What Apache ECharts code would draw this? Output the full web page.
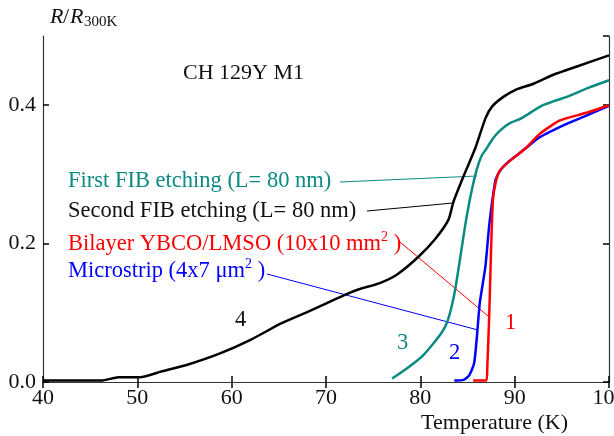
<!DOCTYPE html>
<html lang="en">
<head>
    <meta charset="utf-8">
    <title>R/R300K vs Temperature</title>
    <script src="https://cdn.jsdelivr.net/npm/echarts@6.0.0/dist/echarts.min.js"></script>
    <style>
        html, body {margin: 0; padding: 0; background: #fff;}
    </style>
</head>
<body>
<div id="main" style="width: 614px;height:436px;"></div>
<script type="application/javascript">
    // curve 1 - bilayer YBCO/LMSO
    var t1 = [85.6, 87.0, 87.1, 87.3, 87.5, 87.7, 88.0, 88.4, 89.7, 91.1, 92.7, 94.8, 97.6, 100];
    var r1 = [0.002, 0.002, 0.022, 0.095, 0.192, 0.264, 0.289, 0.305, 0.322, 0.337, 0.359, 0.378, 0.389, 0.400];
    // curve 2 - microstrip
    var t2 = [83.6, 84.6, 85.2, 85.7, 86.0, 86.3, 86.9, 87.3, 87.7, 88.0, 88.6, 89.5, 91.1, 92.7, 95.5, 97.6, 100];
    var r2 = [0.002, 0.003, 0.010, 0.027, 0.066, 0.114, 0.167, 0.226, 0.269, 0.293, 0.308, 0.320, 0.337, 0.354, 0.373, 0.385, 0.399];
    // curve 3 - first FIB etching
    var t3 = [77.0, 78.0, 79.3, 80.4, 81.4, 82.2, 82.8, 83.3, 83.7, 84.2, 84.8, 85.4, 86.0, 86.5, 87.0, 87.7, 88.5, 89.5, 90.7, 93.0, 95.5, 97.8, 100];
    var r3 = [0.005, 0.014, 0.027, 0.040, 0.056, 0.070, 0.085, 0.108, 0.134, 0.177, 0.230, 0.274, 0.308, 0.327, 0.337, 0.352, 0.364, 0.374, 0.381, 0.400, 0.412, 0.425, 0.436];
    // curve 4 - second FIB etching
    var t4 = [40, 46.2, 48.0, 50.3, 52.5, 55.3, 58.7, 62.0, 65.3, 68.0, 70.1, 72.0, 73.5, 75.7, 77.5, 79.8, 81.6, 83.0, 83.5, 84.6, 85.8, 86.9, 87.6, 88.8, 90.2, 92.0, 94.1, 96.6, 100];
    var r4 = [0.002, 0.002, 0.007, 0.007, 0.015, 0.025, 0.041, 0.061, 0.085, 0.101, 0.114, 0.126, 0.134, 0.143, 0.155, 0.181, 0.207, 0.235, 0.260, 0.298, 0.337, 0.381, 0.398, 0.412, 0.423, 0.431, 0.444, 0.456, 0.472];

    var xTicks = [40, 50, 60, 70, 80, 90, 100];
    var yTicks = [0.0, 0.2, 0.4];

    var TEAL = '#0b8a84';
    var FONT = '"Liberation Serif", "DejaVu Serif", serif';

    function pairs(xs, ys) {
        var out = [];
        for (var i = 0; i < xs.length; i++) out.push([xs[i], ys[i]]);
        return out;
    }

    function curve(name, xs, ys, color) {
        return {
            name: name,
            type: 'line',
            data: pairs(xs, ys),
            showSymbol: false,
            smooth: 0.2,
            lineStyle: {color: color, width: 2.5},
            z: 3,
            silent: true
        };
    }

    function txt(x, y, s, color, size) {
        return {
            type: 'text',
            x: x, y: y,
            style: {
                text: s, fill: color, font: (size || 22.5) + 'px ' + FONT,
                textAlign: 'left', textVerticalAlign: 'middle'
            }
        };
    }

    function richTxt(x, y, s, color) {
        return {
            type: 'text',
            x: x, y: y,
            style: {
                text: s,
                textAlign: 'left', textVerticalAlign: 'middle',
                rich: {
                    a: {fontFamily: FONT, fontSize: 22.5, fill: color, color: color, verticalAlign: 'bottom', lineHeight: 26},
                    s: {fontFamily: FONT, fontSize: 14, fill: color, color: color, verticalAlign: 'top', lineHeight: 14}
                }
            }
        };
    }

    function seg(x1, y1, x2, y2, color) {
        return {
            type: 'line',
            shape: {x1: x1, y1: y1, x2: x2, y2: y2},
            style: {stroke: color, lineWidth: 1}
        };
    }

    var chart = echarts.init(document.getElementById('main'));

    var tickLabel = {fontFamily: FONT, fontSize: 22, color: '#111'};
    var axisLine = {lineStyle: {color: '#333', width: 1.2}};
    var tick = {inside: true, length: 6, lineStyle: {color: '#000', width: 1.5}};

    var option = {
        animation: false,
        backgroundColor: '#fff',
        grid: {left: 43, right: 5, top: 36, bottom: 54, outerBoundsMode: 'none', containLabel: false},
        xAxis: [{
            type: 'value', min: xTicks[0], max: xTicks[xTicks.length - 1], interval: 10,
            axisLine: axisLine,
            axisTick: tick,
            axisLabel: Object.assign({margin: 5}, tickLabel),
            splitLine: {show: false},
            name: 'Temperature (K)', nameLocation: 'end',
            nameTextStyle: {fontFamily: FONT, fontSize: 22, color: '#111', align: 'right', verticalAlign: 'top', padding: [30, 56, 0, 0]}
        }, {
            type: 'value', position: 'top', min: 40, max: 100, interval: 10,
            axisLine: axisLine,
            axisTick: tick,
            axisLabel: {show: false},
            splitLine: {show: false}
        }],
        yAxis: [{
            type: 'value', min: yTicks[0], max: 0.5, interval: 0.2,
            axisLine: axisLine,
            axisTick: tick,
            axisLabel: Object.assign({margin: 7, showMaxLabel: false, formatter: function (v) { return v.toFixed(1); }}, tickLabel),
            splitLine: {show: false}
        }, {
            type: 'value', position: 'right', min: 0, max: 0.5, interval: 0.2,
            axisLine: axisLine,
            axisTick: tick,
            axisLabel: {show: false},
            splitLine: {show: false}
        }],
        series: [
            curve('Second FIB etching', t4, r4, '#000'),
            curve('First FIB etching', t3, r3, TEAL),
            curve('Microstrip', t2, r2, '#0000ff'),
            curve('Bilayer YBCO/LMSO', t1, r1, '#ff0000')
        ],
        graphic: [
            // y axis title
            {
                type: 'text', x: 50, y: 17,
                style: {text: 'R', fill: '#111', font: 'italic 22px ' + FONT, textVerticalAlign: 'middle'}
            },
            {
                type: 'text', x: 63, y: 17,
                style: {text: '/', fill: '#111', font: '22px ' + FONT, textVerticalAlign: 'middle'}
            },
            {
                type: 'text', x: 70, y: 17,
                style: {text: 'R', fill: '#111', font: 'italic 22px ' + FONT, textVerticalAlign: 'middle'}
            },
            {
                type: 'text', x: 84, y: 22,
                style: {text: '300K', fill: '#111', font: '15px ' + FONT, textVerticalAlign: 'middle'}
            },
            txt(183, 73, 'CH 129Y M1', '#111', 22),
            txt(68, 181, 'First FIB etching (L= 80 nm)', TEAL),
            txt(68, 211, 'Second FIB etching (L= 80 nm)', '#111'),
            richTxt(68, 243, '{a|Bilayer YBCO/LMSO (10x10 mm}{s|2}{a| )}', '#ff0000'),
            richTxt(68, 270, '{a|Microstrip (4x7 \u03bcm}{s|2}{a| )}', '#0000ff'),
            seg(340, 182, 477, 176, TEAL),
            seg(367, 211, 453, 203, '#000'),
            seg(400, 242, 488, 316, '#ff0000'),
            seg(267, 274, 478, 330, '#0000ff'),
            txt(505, 323, '1', '#ff0000'),
            txt(449, 353, '2', '#0000ff'),
            txt(397, 343, '3', TEAL),
            txt(235, 320, '4', '#111')
        ]
    };

    chart.setOption(option);
</script>
</body>
</html>
